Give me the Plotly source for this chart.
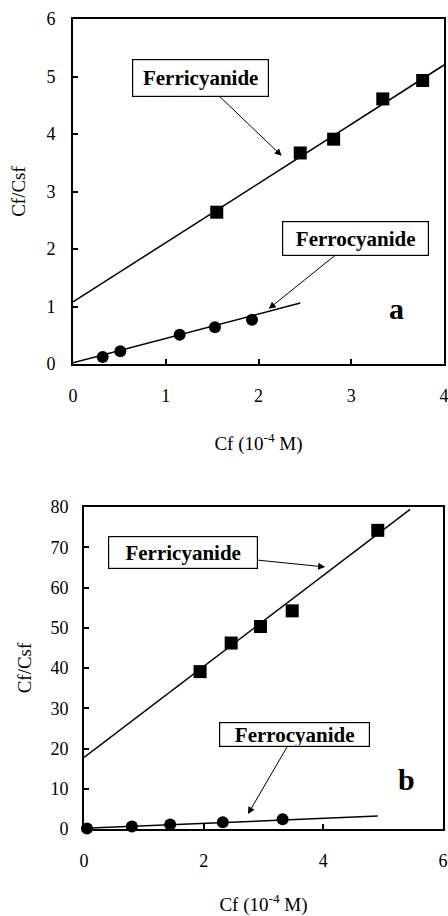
import plotly.graph_objects as go

# Panel a: Cf/Csf against Cf (10^-4 M)
a_ferri_x = [1.55, 2.45, 2.81, 3.34, 3.77]
a_ferri_y = [2.64, 3.67, 3.91, 4.61, 4.93]
a_ferro_x = [0.32, 0.51, 1.15, 1.53, 1.93]
a_ferro_y = [0.12, 0.22, 0.51, 0.64, 0.77]
a_ferri_fit_x = [0.0, 4.0]
a_ferri_fit_y = [1.08, 5.20]
a_ferro_fit_x = [0.0, 2.45]
a_ferro_fit_y = [0.02, 1.06]

# Panel b
b_ferri_x = [1.94, 2.46, 2.95, 3.48, 4.91]
b_ferri_y = [39.1, 46.2, 50.3, 54.2, 74.2]
b_ferro_x = [0.05, 0.80, 1.44, 2.32, 3.32]
b_ferro_y = [0.15, 0.6, 1.1, 1.7, 2.4]
b_ferri_fit_x = [0.0, 5.45]
b_ferri_fit_y = [17.8, 79.4]
b_ferro_fit_x = [0.0, 4.91]
b_ferro_fit_y = [0.2, 3.2]

a_xticks = [0, 1, 2, 3, 4]
a_yticks = [0, 1, 2, 3, 4, 5, 6]
b_xticks = [0, 2, 4, 6]
b_yticks = [0, 10, 20, 30, 40, 50, 60, 70, 80]

W, H = 448, 916
FONT = "Liberation Serif"

fig = go.Figure()

def add_panel(xa, ya, fx1, fy1, fx2, fy2, px1, py1, px2, py2):
    fig.add_trace(go.Scatter(x=fx1, y=fy1, mode="lines", line=dict(color="black", width=1.5),
                             xaxis=xa, yaxis=ya, cliponaxis=True))
    fig.add_trace(go.Scatter(x=fx2, y=fy2, mode="lines", line=dict(color="black", width=1.5),
                             xaxis=xa, yaxis=ya, cliponaxis=True))
    fig.add_trace(go.Scatter(x=px1, y=py1, mode="markers",
                             marker=dict(symbol="square", size=13, color="black"),
                             xaxis=xa, yaxis=ya, cliponaxis=False))
    fig.add_trace(go.Scatter(x=px2, y=py2, mode="markers",
                             marker=dict(symbol="circle", size=12, color="black"),
                             xaxis=xa, yaxis=ya, cliponaxis=False))

add_panel("x", "y", a_ferri_fit_x, a_ferri_fit_y, a_ferro_fit_x, a_ferro_fit_y,
          a_ferri_x, a_ferri_y, a_ferro_x, a_ferro_y)
add_panel("x2", "y2", b_ferri_fit_x, b_ferri_fit_y, b_ferro_fit_x, b_ferro_fit_y,
          b_ferri_x, b_ferri_y, b_ferro_x, b_ferro_y)

axis_common = dict(showline=True, mirror=True, linecolor="black", linewidth=2,
                   ticks="inside", ticklen=5, tickwidth=1.5, tickcolor="black",
                   showgrid=False, zeroline=False, automargin=False,
                   ticklabeloverflow="allow",
                   tickfont=dict(family=FONT, size=18, color="black"))
title_font = dict(family=FONT, size=19, color="black")

fig.update_layout(
    width=W, height=H,
    margin=dict(l=0, r=0, t=0, b=0, autoexpand=False),
    paper_bgcolor="white", plot_bgcolor="white",
    showlegend=False,
    font=dict(family=FONT, size=18, color="black"),
    xaxis=dict(domain=[73 / W, 444 / W], range=[0, 4], tickvals=a_xticks,
               anchor="y", ticklabelstandoff=14,
               title=dict(text="Cf (10<sup>-4</sup> M)", font=title_font, standoff=32),
               **axis_common),
    yaxis=dict(domain=[1 - 364 / H, 1 - 19 / H], range=[0, 6], tickvals=a_yticks,
               anchor="x", ticklabelstandoff=12,
               title=dict(text="Cf/Csf", font=title_font, standoff=16),
               **axis_common),
    xaxis2=dict(domain=[84 / W, 443 / W], range=[0, 6], tickvals=b_xticks,
                anchor="y2", ticklabelstandoff=14,
                title=dict(text="Cf (10<sup>-4</sup> M)", font=title_font, standoff=34),
                **axis_common),
    yaxis2=dict(domain=[1 - 829 / H, 1 - 507 / H], range=[0, 80], tickvals=b_yticks,
                anchor="x2", ticklabelstandoff=10,
                title=dict(text="Cf/Csf", font=title_font, standoff=14),
                **axis_common),
)

box_font = dict(family=FONT, size=21, color="black")

def label_box(text, xref, yref, bx, by, hx, hy, w, h, pad=3):
    fig.add_annotation(text="<b>%s</b>" % text, x=hx, y=hy, ax=bx, ay=by,
                       xref=xref, yref=yref, axref=xref, ayref=yref,
                       showarrow=True, arrowhead=2, arrowsize=1.4, arrowwidth=1,
                       arrowcolor="black", font=box_font,
                       bgcolor="white", bordercolor="black", borderwidth=1.2,
                       borderpad=pad, width=w, height=h)

label_box("Ferricyanide", "x", "y", 1.375, 4.97, 2.25, 3.62, 129, 30)
label_box("Ferrocyanide", "x", "y", 3.05, 2.18, 2.11, 0.96, 139, 27)
label_box("Ferricyanide", "x2", "y2", 1.65, 68.7, 4.03, 65.1, 142, 25)
label_box("Ferrocyanide", "x2", "y2", 3.52, 23.6, 2.74, 3.7, 147, 21, 1)

fig.add_annotation(text="<b>a</b>", x=3.49, y=0.96, xref="x", yref="y",
                   showarrow=False, font=dict(family=FONT, size=30, color="black"))
fig.add_annotation(text="<b>b</b>", x=5.39, y=12.3, xref="x2", yref="y2",
                   showarrow=False, font=dict(family=FONT, size=30, color="black"))

fig.write_html("out.html")
